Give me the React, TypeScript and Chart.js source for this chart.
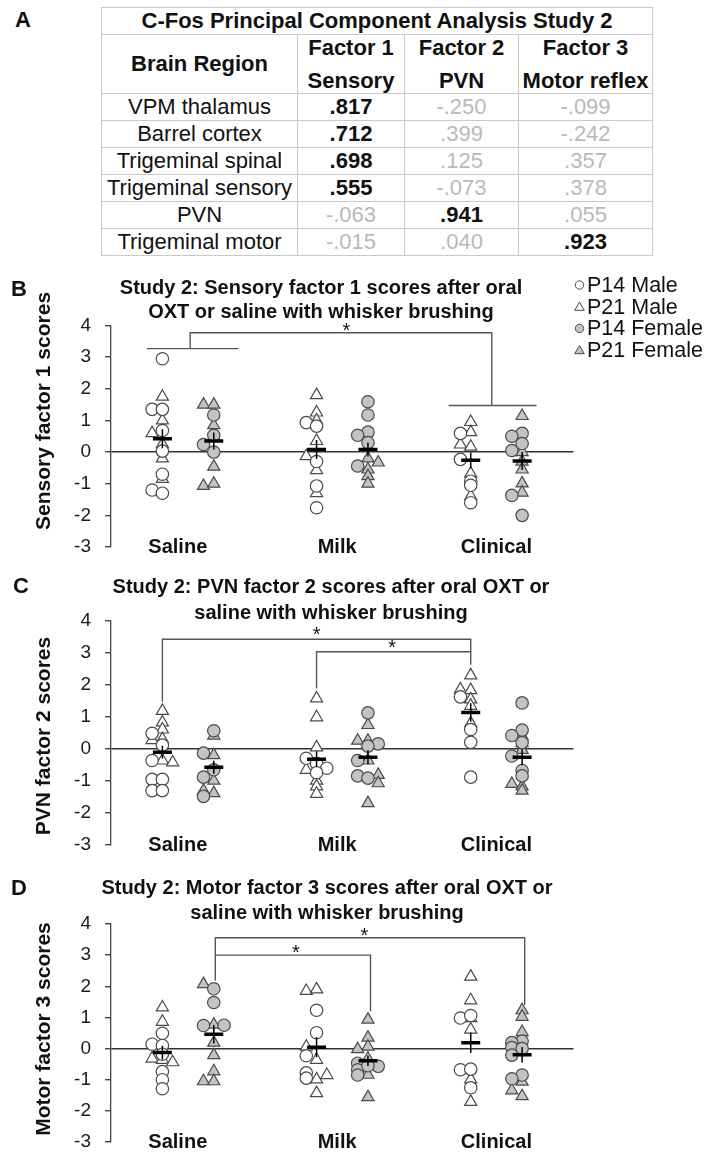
import React, { useEffect, useRef } from "react";
import { Chart, registerables } from "chart.js";

Chart.register(...registerables);

const FONT = '"Liberation Sans", Arial, Helvetica, sans-serif';
Chart.defaults.font.family = FONT;

// ---------- Table A ----------
const tableTitle = "C-Fos Principal Component Analysis Study 2";
const factorNames = ["Factor 1", "Factor 2", "Factor 3"];
const factorLabels = ["Sensory", "PVN", "Motor reflex"];
const brainRegions = ["VPM thalamus", "Barrel cortex", "Trigeminal spinal", "Trigeminal sensory", "PVN", "Trigeminal motor"];
const factor1Loadings = [".817", ".712", ".698", ".555", "-.063", "-.015"];
const factor2Loadings = ["-.250", ".399", ".125", "-.073", ".941", ".040"];
const factor3Loadings = ["-.099", "-.242", ".357", ".378", ".055", ".923"];

// ---------- Shared chart categories ----------
const treatments = ["Saline", "Milk", "Clinical"];
const treatmentTickPos = [1.3, 4.4, 7.5];
const seriesLabels = ["P14 Male", "P21 Male", "P14 Female", "P21 Female"];
const groupX = [1, 2, 4, 5, 7, 8]; // Saline M/F, Milk M/F, Clinical M/F

// ---------- Panel B: Sensory factor 1 ----------
const sensoryP14Male = [[2.95, 1.35, 1.35, 0.68, 0.03, -0.7, -1.2, -1.3], [0.93, 0.82, -0.3, -1.07, -1.76], [0.59, -0.23, -0.92, -1.05, -1.6]];
const sensoryP14MaleLane = [[0, -1, 0, 0, 0, 0, -1, 0], [-1, 0, 0, 0, 0], [-1, -1, 0, 0, 0]];
const sensoryP21Male = [[1.75, 1.0, 0.6, 0.25, -0.2, -0.85], [1.8, 1.25, 1.0, 0.35, -0.13, -0.57, -1.3], [0.95, 0.63, 0.24, 0.17, -0.68, -1.39]];
const sensoryP21MaleLane = [[0, 0, -1, 0, 0, 0], [0, 0, 0, 0, -1, 0, 0], [0, 0, -1, 0, 0, 0]];
const sensoryP14Female = [[1.17, 0.53, 0.24, 0.0], [1.59, 1.17, 0.63, 0.53, 0.3, -0.44], [0.59, 0.5, 0.27, 0.05, -1.37, -2.0]];
const sensoryP14FemaleLane = [[0, 0, -1, 0], [0, 0, 0, -1, 0, -1], [0, -1, 0, -1, -1, 0]];
const sensoryP21Female = [[1.5, 1.5, 0.85, 0.48, -0.46, -1.07, -1.0], [0.13, -0.2, -0.33, -0.55, -0.76, -1.0], [1.14, 0.0, -0.3, -0.55, -0.99, -1.28]];
const sensoryP21FemaleLane = [[-1, 0, 0, 0, 0, -1, 0], [0, 0, 1, 0, 0, 0], [0, 0, 0, 0, 0, 0]];
const sensoryMeans = [0.42, 0.35, 0.08, 0.08, -0.26, -0.28];
const sensorySems = [0.3, 0.27, 0.3, 0.22, 0.25, 0.28];
const sensoryBrackets = [
  [[0.7, 3.27], [2.48, 3.27]],
  [[1.54, 3.27], [1.54, 3.77], [7.41, 3.77], [7.41, 1.47]],
  [[6.57, 1.47], [8.28, 1.47]],
];
const sensoryStars = [[4.58, 3.94]];

// ---------- Panel C: PVN factor 2 ----------
const pvnP14Male = [[0.49, 0.12, -0.36, -0.95, -0.95, -1.3, -1.3], [-0.29, -0.45, -0.6, -0.74], [1.63, 0.61, 0.21, -0.88]];
const pvnP14MaleLane = [[-1, 0, -1, -1, 0, -1, 0], [-1, 0, 1, 0], [-1, 0, 0, 0]];
const pvnP21Male = [[1.19, 0.83, 0.61, 0.31, 0.28, -0.36, -0.42], [1.58, 0.99, 0.05, -0.65, -0.99, -1.17, -1.4], [2.3, 1.86, 1.84, 1.55, 1.35, 0.8]];
const pvnP21MaleLane = [[0, 0, 0, 0, -1, 0, 1], [0, 0, 0, -1, 0, 0, 0], [0, -1, 0, 0, 0, 0]];
const pvnP14Female = [[0.57, -0.13, -0.65, -0.88, -1.48], [1.13, 0.16, 0.09, -0.36, -0.84, -0.91], [1.44, 0.59, 0.42, 0.2, -0.22, -0.67, -0.84]];
const pvnP14FemaleLane = [[0, -1, 0, -1, -1], [0, 1, 0, -1, -1, 0], [0, 0, -1, 0, -1, 0, 0]];
const pvnP21Female = [[0.42, -0.19, -0.99, -1.3, -1.38], [0.75, 0.26, 0.26, -0.36, -0.81, -1.07, -1.69], [0.4, 0.18, -0.03, -1.09, -1.17, -1.3]];
const pvnP21FemaleLane = [[0, 0, 0, -1, 0], [0, -1, 0, 0, 1, 1, 0], [0, 0, 0, -1, 0, 0]];
const pvnMeans = [-0.1, -0.57, -0.32, -0.26, 1.14, -0.26];
const pvnSems = [0.2, 0.2, 0.25, 0.22, 0.29, 0.25];
const pvnBrackets = [
  [[1, 1.48], [1, 3.43], [7, 3.43], [7, 2.63]],
  [[4, 1.9], [4, 3.04], [7, 3.04]],
];
const pvnStars = [[4.0, 3.67], [5.47, 3.28]];

// ---------- Panel D: Motor factor 3 ----------
const motorP14Male = [[0.49, 0.14, 0.1, -0.18, -0.74, -1.0, -1.29], [1.23, 0.51, -0.23, -0.78, -0.95], [0.98, 1.06, -0.68, -0.66, -1.26]];
const motorP14MaleLane = [[0, -1, 0, 0, 0, 0, 0], [0, 0, -1, -1, -1], [-1, 0, -1, 0, 0]];
const motorP21Male = [[1.32, 0.86, -0.32, -0.36, -0.44], [1.85, 1.9, 0.06, -0.36, -0.99, -0.85, -1.43], [2.31, 1.55, 0.98, 0.61, -0.99, -1.71]];
const motorP21MaleLane = [[0, 0, -1, 0, 1], [-1, 0, -1, 0, 0, 1, 0], [0, 0, 0, 0, 0, 0]];
const motorP14Female = [[1.92, 1.48, 0.74, 0.75], [-0.47, -0.57, -0.68, -0.85, -0.55], [0.24, 0.19, 0.03, 0.0, -0.21, -0.85, -0.97]];
const motorP14FemaleLane = [[0, 0, -1, 1], [-1, 1, -1, -1, 0], [0, -1, -1, 0, -1, 0, -1]];
const motorP21Female = [[2.07, 0.77, 0.19, -0.21, -0.73, -1.05, -1.05], [0.93, 0.35, 0.06, -0.02, -0.32, -0.84, -1.56], [1.23, 1.02, 0.53, -1.06, -1.34, -1.53]];
const motorP21FemaleLane = [[-1, 0, 0, 0, 0, -1, 0], [0, 0, 0, -1, 0, 0, 0], [0, 0, 0, 0, -1, 0]];
const motorMeans = [-0.13, 0.46, 0.04, -0.39, 0.19, -0.2];
const motorSems = [0.22, 0.3, 0.32, 0.17, 0.33, 0.25];
const motorBrackets = [
  [[2.03, 2.18], [2.03, 3.56], [8.05, 3.56], [8.05, 1.4]],
  [[2.03, 3.0], [5.05, 3.0], [5.05, 1.2]],
];
const motorStars = [[4.93, 3.73], [3.6, 3.18]];

// ---------- Layout / style settings ----------
const LANE = 0.2;
const MALE_FILL = "#ffffff";
const FEMALE_FILL = "#c3c3c3";
const MARK_EDGE = "#4a4a4a";

type Panel = {
  letter: string;
  top: number;
  height: number;
  plotTop: number;
  plotBottom: number;
  titleLines: string[];
  titleX: number;
  titleY: number[];
  letterXY: number[];
  yTitle: string;
  yTitleY: number;
  series: number[][][];
  lanes: number[][][];
  means: number[];
  sems: number[];
  brackets: number[][][];
  stars: number[][];
  legend: boolean;
};

const panels: Panel[] = [
  {
    letter: "B", top: 265, height: 295, plotTop: 325.5, plotBottom: 548,
    titleLines: ["Study 2: Sensory factor 1 scores after oral", "OXT or saline with whisker brushing"],
    titleX: 321, titleY: [23, 47], letterXY: [19, 25],
    yTitle: "Sensory factor 1 scores", yTitleY: 146,
    series: [sensoryP14Male, sensoryP21Male, sensoryP14Female, sensoryP21Female],
    lanes: [sensoryP14MaleLane, sensoryP21MaleLane, sensoryP14FemaleLane, sensoryP21FemaleLane],
    means: sensoryMeans, sems: sensorySems, brackets: sensoryBrackets, stars: sensoryStars, legend: true,
  },
  {
    letter: "C", top: 560, height: 300, plotTop: 621, plotBottom: 845,
    titleLines: ["Study 2: PVN factor 2 scores after oral OXT or", "saline with whisker brushing"],
    titleX: 331, titleY: [27, 53], letterXY: [21, 27],
    yTitle: "PVN factor 2 scores", yTitleY: 176,
    series: [pvnP14Male, pvnP21Male, pvnP14Female, pvnP21Female],
    lanes: [pvnP14MaleLane, pvnP21MaleLane, pvnP14FemaleLane, pvnP21FemaleLane],
    means: pvnMeans, sems: pvnSems, brackets: pvnBrackets, stars: pvnStars, legend: false,
  },
  {
    letter: "D", top: 860, height: 295, plotTop: 924, plotBottom: 1145.5,
    titleLines: ["Study 2: Motor factor 3 scores after oral OXT or", "saline with whisker brushing"],
    titleX: 327, titleY: [28, 53], letterXY: [19, 29],
    yTitle: "Motor factor 3 scores", yTitleY: 169,
    series: [motorP14Male, motorP21Male, motorP14Female, motorP21Female],
    lanes: [motorP14MaleLane, motorP21MaleLane, motorP14FemaleLane, motorP21FemaleLane],
    means: motorMeans, sems: motorSems, brackets: motorBrackets, stars: motorStars, legend: false,
  },
];

function seriesStyle(si: number) {
  const tri = si % 2 === 1;
  return {
    pointStyle: tri ? "triangle" : "circle",
    pointRadius: tri ? 7 : 6.2,
    pointBackgroundColor: si < 2 ? MALE_FILL : FEMALE_FILL,
    pointBorderColor: MARK_EDGE,
    pointBorderWidth: 1.2,
  };
}

function buildDatasets(p: Panel) {
  const ds: any[] = [];
  ds.push({
    type: "scatter",
    label: "Mean",
    data: groupX.map((x, i) => ({ x, y: p.means[i] })),
    pointStyle: "line",
    pointRadius: 9.5,
    pointBorderColor: "#000",
    pointBorderWidth: 3.5,
    order: 0,
  });
  const sem: any[] = [];
  groupX.forEach((x, i) => {
    sem.push({ x, y: p.means[i] - p.sems[i] }, { x, y: p.means[i] + p.sems[i] }, { x, y: null });
  });
  ds.push({
    type: "line", label: "SEM", data: sem, borderColor: "#000", borderWidth: 1.5,
    pointRadius: 0, spanGaps: false, order: 1,
  });
  p.series.forEach((byTreatment, si) => {
    const data: any[] = [];
    byTreatment.forEach((vals, ti) => {
      const base = ti * 3 + (si < 2 ? 1 : 2);
      vals.forEach((v, k) => data.push({ x: base + p.lanes[si][ti][k] * LANE, y: v }));
    });
    ds.push({ type: "scatter", label: seriesLabels[si], data, order: 2, ...seriesStyle(si) });
  });
  const br: any[] = [];
  p.brackets.forEach((seg) => {
    seg.forEach(([x, y]) => br.push({ x, y }));
    br.push({ x: seg[seg.length - 1][0], y: null });
  });
  ds.push({
    type: "line", label: "Brackets", data: br, borderColor: "#555", borderWidth: 1.4,
    pointRadius: 0, spanGaps: false, order: 3,
  });
  return ds;
}

function makeDecor(p: Panel) {
  return {
    id: "decor" + p.letter,
    afterDraw(chart: any) {
      const ctx: CanvasRenderingContext2D = chart.ctx;
      const xs = chart.scales.x;
      const ys = chart.scales.y;
      ctx.save();
      ctx.fillStyle = "#111";
      ctx.textAlign = "center";
      ctx.textBaseline = "middle";
      // panel letter
      ctx.font = `bold 22px ${FONT}`;
      ctx.fillText(p.letter, p.letterXY[0], p.letterXY[1]);
      // title
      ctx.font = `bold 20px ${FONT}`;
      p.titleLines.forEach((t, i) => ctx.fillText(t, p.titleX, p.titleY[i]));
      // category labels, level with the bottom of the y axis
      const catY = ys.getPixelForValue(-3);
      treatments.forEach((t, i) => ctx.fillText(t, xs.getPixelForValue(treatmentTickPos[i]), catY));
      // y title
      ctx.save();
      ctx.translate(44, p.yTitleY);
      ctx.rotate(-Math.PI / 2);
      ctx.font = `bold 21px ${FONT}`;
      ctx.fillText(p.yTitle, 0, 0);
      ctx.restore();
      // stars
      ctx.font = `20px ${FONT}`;
      p.stars.forEach(([sx, sy]) => ctx.fillText("*", xs.getPixelForValue(sx), ys.getPixelForValue(sy) + 4));
      // legend
      if (p.legend) {
        ctx.font = `21.5px ${FONT}`;
        ctx.textAlign = "left";
        seriesLabels.forEach((lab, si) => {
          const y = 20 + si * 21.7;
          const x = 579.5;
          ctx.fillStyle = si < 2 ? MALE_FILL : FEMALE_FILL;
          ctx.strokeStyle = MARK_EDGE;
          ctx.lineWidth = 1;
          ctx.beginPath();
          if (si % 2 === 0) {
            ctx.arc(x, y, 4.2, 0, Math.PI * 2);
          } else {
            ctx.moveTo(x, y - 4.6);
            ctx.lineTo(x + 4.8, y + 3.6);
            ctx.lineTo(x - 4.8, y + 3.6);
            ctx.closePath();
          }
          ctx.fill();
          ctx.stroke();
          ctx.fillStyle = "#111";
          ctx.fillText(lab, 587, y + 1);
        });
      }
      ctx.restore();
    },
  };
}

function PanelChart({ p }: { p: Panel }) {
  const ref = useRef<HTMLCanvasElement>(null);
  useEffect(() => {
    const padTop = p.plotTop - p.top;
    const padBottom = p.top + p.height - p.plotBottom;
    const chart = new Chart(ref.current as HTMLCanvasElement, {
      type: "scatter",
      data: { datasets: buildDatasets(p) },
      options: {
        responsive: false,
        animation: false,
        events: [],
        layout: { padding: { left: 0, right: 713 - 573.5, top: padTop, bottom: padBottom } },
        plugins: { legend: { display: false }, tooltip: { enabled: false }, title: { display: false } },
        scales: {
          x: {
            type: "linear",
            min: 0,
            max: 9,
            display: false,
          },
          y: {
            type: "linear",
            min: -3,
            max: 4,
            afterFit: (s: any) => {
              s.width = 111;
              s.paddingTop = 0;
              s.paddingBottom = 0;
            },
            ticks: { stepSize: 1, padding: 14, color: "#1a1a1a", font: { size: 19 } },
            grid: {
              drawOnChartArea: true,
              drawTicks: true,
              tickLength: 6,
              lineWidth: 1.4,
              color: (c: any) => (c.tick && c.tick.value === 0 ? "#333" : "rgba(0,0,0,0)"),
              tickColor: "#444",
            },
            border: { display: true, color: "#444", width: 1.3 },
          },
        },
      } as any,
      plugins: [makeDecor(p)],
    });
    return () => chart.destroy();
  }, [p]);
  return (
    <canvas
      ref={ref}
      width={713}
      height={p.height}
      style={{ position: "absolute", left: 0, top: p.top, width: 713, height: p.height }}
    />
  );
}

const cellStyle: React.CSSProperties = {
  border: "1px solid #c9c9c9",
  padding: 0,
  textAlign: "center",
  verticalAlign: "middle",
  fontSize: 22,
  lineHeight: "24px",
  whiteSpace: "nowrap",
  overflow: "hidden",
};

function LoadingCell({ v }: { v: string }) {
  const strong = Math.abs(parseFloat(v)) >= 0.5;
  return (
    <td style={{ ...cellStyle, fontWeight: strong ? "bold" : "normal", color: strong ? "#111" : "#b9b9b9" }}>{v}</td>
  );
}

export default function App() {
  return (
    <div style={{ position: "absolute", left: 0, top: 0, width: 713, height: 1155, background: "#fff", fontFamily: FONT, color: "#111" }}>
      <div style={{ position: "absolute", left: 15, top: 9, fontSize: 22, lineHeight: "22px", fontWeight: "bold" }}>A</div>
      <table style={{ position: "absolute", left: 101, top: 7, borderCollapse: "collapse", tableLayout: "fixed", width: 551 }}>
        <colgroup>
          <col style={{ width: 196 }} />
          <col style={{ width: 107 }} />
          <col style={{ width: 114 }} />
          <col style={{ width: 134 }} />
        </colgroup>
        <tbody>
          <tr style={{ height: 27 }}>
            <td colSpan={4} style={{ ...cellStyle, fontWeight: "bold" }}>{tableTitle}</td>
          </tr>
          <tr style={{ height: 59 }}>
            <td style={{ ...cellStyle, fontWeight: "bold" }}>Brain Region</td>
            {factorNames.map((f, i) => (
              <td key={f} style={{ ...cellStyle, fontWeight: "bold" }}>
                <div style={{ lineHeight: "25px" }}>{f}</div>
                <div style={{ lineHeight: "25px", marginTop: 8 }}>{factorLabels[i]}</div>
              </td>
            ))}
          </tr>
          {brainRegions.map((r, i) => (
            <tr key={r} style={{ height: 27 }}>
              <td style={cellStyle}>{r}</td>
              <LoadingCell v={factor1Loadings[i]} />
              <LoadingCell v={factor2Loadings[i]} />
              <LoadingCell v={factor3Loadings[i]} />
            </tr>
          ))}
        </tbody>
      </table>
      {panels.map((p) => (
        <PanelChart key={p.letter} p={p} />
      ))}
    </div>
  );
}
